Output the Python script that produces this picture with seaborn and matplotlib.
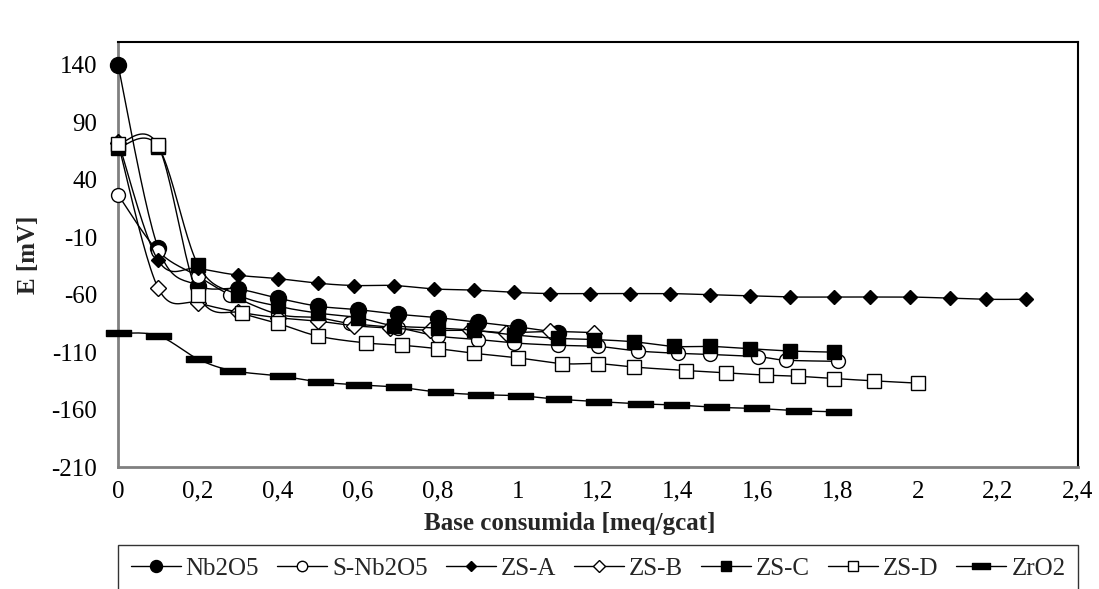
import numpy as np
import matplotlib
matplotlib.use("Agg")
import matplotlib.pyplot as plt
import seaborn as sns
from matplotlib.path import Path
from matplotlib.lines import Line2D

# ---------------- data ----------------
nb_x = [0, 0.1, 0.2, 0.3, 0.4, 0.5, 0.6, 0.7, 0.8, 0.9, 1.0, 1.1]
nb_y = [140, -19, -52, -55, -63, -70, -73, -77, -80, -84, -88, -93]

snb_x = [0, 0.1, 0.2, 0.28, 0.4, 0.5, 0.58, 0.7, 0.8, 0.9, 0.99, 1.1, 1.2, 1.3, 1.4, 1.48, 1.6, 1.67, 1.8]
snb_y = [27, -22, -44, -60, -77, -80, -85, -89, -96, -99, -102, -104, -105, -109, -111, -112, -114, -117, -118]

zsa_x = [0, 0.1, 0.2, 0.3, 0.4, 0.5, 0.59, 0.69, 0.79, 0.89, 0.99, 1.08, 1.18, 1.28, 1.38, 1.48,
         1.58, 1.68, 1.79, 1.88, 1.98, 2.08, 2.17, 2.27]
zsa_y = [74, -30, -37, -43, -46, -50, -52, -52, -55, -56, -58, -59, -59, -59, -59, -60,
         -61, -62, -62, -62, -62, -63, -64, -64]

zsb_x = [0, 0.1, 0.2, 0.3, 0.4, 0.5, 0.59, 0.68, 0.78, 0.88, 0.97, 1.08, 1.19]
zsb_y = [72, -54, -67, -75, -80, -83, -87, -89, -91, -91, -93, -92, -93]

zsc_x = [0, 0.1, 0.2, 0.3, 0.4, 0.5, 0.6, 0.69, 0.8, 0.89, 0.99, 1.1, 1.19, 1.29, 1.39, 1.48, 1.58, 1.68, 1.79]
zsc_y = [68, 69, -34, -60, -70, -76, -80, -87, -89, -91, -95, -98, -99, -101, -105, -105, -107, -109, -110]

zsd_x = [0, 0.1, 0.2, 0.31, 0.4, 0.5, 0.62, 0.71, 0.8, 0.89, 1.0, 1.11, 1.2, 1.29, 1.42, 1.52,
         1.62, 1.7, 1.79, 1.89, 2.0]
zsd_y = [71, 70, -60, -76, -85, -96, -102, -104, -107, -111, -115, -120, -120, -123, -126, -128,
         -130, -131, -133, -135, -137]

zro_x = [0, 0.1, 0.2, 0.285, 0.41, 0.505, 0.6, 0.7, 0.805, 0.905, 1.005, 1.1, 1.2, 1.305, 1.395,
         1.495, 1.595, 1.7, 1.8]
zro_y = [-93.5, -95.6, -116, -126, -131, -136, -138.5, -140.5, -145, -147, -148, -151, -153, -155,
         -156, -158, -159, -161, -162]

series_names = ["Nb2O5", "S-Nb2O5", "ZS-A", "ZS-B", "ZS-C", "ZS-D", "ZrO2"]

xticks = [0, 0.2, 0.4, 0.6, 0.8, 1.0, 1.2, 1.4, 1.6, 1.8, 2.0, 2.2, 2.4]
xtick_labels = ["0", "0,2", "0,4", "0,6", "0,8", "1", "1,2", "1,4", "1,6", "1,8", "2", "2,2", "2,4"]
yticks = [-210, -160, -110, -60, -10, 40, 90, 140]

# ---------------- style ----------------
sns.set_theme(style="white")
plt.rcParams["font.family"] = ["Liberation Serif", "DejaVu Serif"]
plt.rcParams["axes.unicode_minus"] = False

bar = Path([(-1, -0.27), (1, -0.27), (1, 0.27), (-1, 0.27), (-1, -0.27)],
           [Path.MOVETO, Path.LINETO, Path.LINETO, Path.LINETO, Path.CLOSEPOLY])

styles = [
    dict(marker="o", ms=11.5, mfc="black"),
    dict(marker="o", ms=10, mfc="white"),
    dict(marker="D", ms=7.2, mfc="black"),
    dict(marker="D", ms=8, mfc="white"),
    dict(marker="s", ms=10, mfc="black"),
    dict(marker="s", ms=10, mfc="white"),
    dict(marker=bar, ms=18, mfc="black"),
]


def smooth(x, y, n=24):
    pts = np.column_stack([x, y]).astype(float)
    N = len(pts)
    out = [pts[0]]
    t = np.linspace(0, 1, n)[1:, None]
    for i in range(N - 1):
        p0 = pts[i - 1] if i > 0 else pts[i]
        p1 = pts[i]
        p2 = pts[i + 1]
        p3 = pts[i + 2] if i + 2 < N else pts[i + 1]
        c1 = p1 + (p2 - p0) / 6
        c2 = p2 - (p3 - p1) / 6
        seg = (1 - t) ** 3 * p1 + 3 * (1 - t) ** 2 * t * c1 + 3 * (1 - t) * t ** 2 * c2 + t ** 3 * p2
        out.extend(seg)
    return np.array(out)


fig = plt.figure(figsize=(10.99, 5.89), dpi=100)
ax = fig.add_axes([0.1074, 0.2071, 0.9809 - 0.1074, 0.9287 - 0.2071])

data = [(nb_x, nb_y), (snb_x, snb_y), (zsa_x, zsa_y), (zsb_x, zsb_y),
        (zsc_x, zsc_y), (zsd_x, zsd_y), (zro_x, zro_y)]

handles = []
for k, ((x, y), st, name) in enumerate(zip(data, styles, series_names)):
    s = smooth(x, y)
    sns.lineplot(x=s[:, 0], y=s[:, 1], ax=ax, color="black", lw=1.0, sort=False,
                 estimator=None, zorder=3 + 2 * k, legend=False)
    ax.plot(x, y, ls="none", marker=st["marker"], ms=st["ms"], mfc=st["mfc"],
            mec="black", mew=1.0, zorder=4 + 2 * k, clip_on=False)
    handles.append(Line2D([0], [0], color="black", lw=1.0, marker=st["marker"],
                          ms=st["ms"] * 0.75, mfc=st["mfc"], mec="black", mew=1.0))

ax.set_xlim(0, 2.4)
ax.set_ylim(-210, 160)
ax.set_xticks(xticks)
ax.set_xticklabels(xtick_labels)
ax.set_yticks(yticks)
ax.tick_params(axis="both", direction="out", length=6, width=1.5, colors="#808080",
               labelcolor="black", labelsize=18)
ax.tick_params(axis="y", pad=9)
ax.tick_params(axis="x", pad=4)

for side in ["left", "bottom"]:
    ax.spines[side].set_color("#808080")
    ax.spines[side].set_linewidth(2)
for side in ["top", "right"]:
    ax.spines[side].set_color("black")
    ax.spines[side].set_linewidth(1.5)

ax.set_xlabel("Base consumida [meq/gcat]", fontsize=18, fontweight="bold", labelpad=1)
ax.xaxis.set_label_coords(0.471, -0.105)
ax.set_ylabel("E [mV]", fontsize=18, fontweight="bold", labelpad=8)

leg = fig.legend(handles, series_names, loc="upper left", ncol=7, mode="expand",
                 bbox_to_anchor=(0.1074, 0.0747, 0.9809 - 0.1074, 0),
                 bbox_transform=fig.transFigure, fontsize=18, frameon=True,
                 fancybox=False, edgecolor="black", handlelength=2.0,
                 handletextpad=0.2, columnspacing=0.6, borderpad=0.5, borderaxespad=0)
leg.get_frame().set_linewidth(1.0)

fig.savefig("out.png", dpi=100)
